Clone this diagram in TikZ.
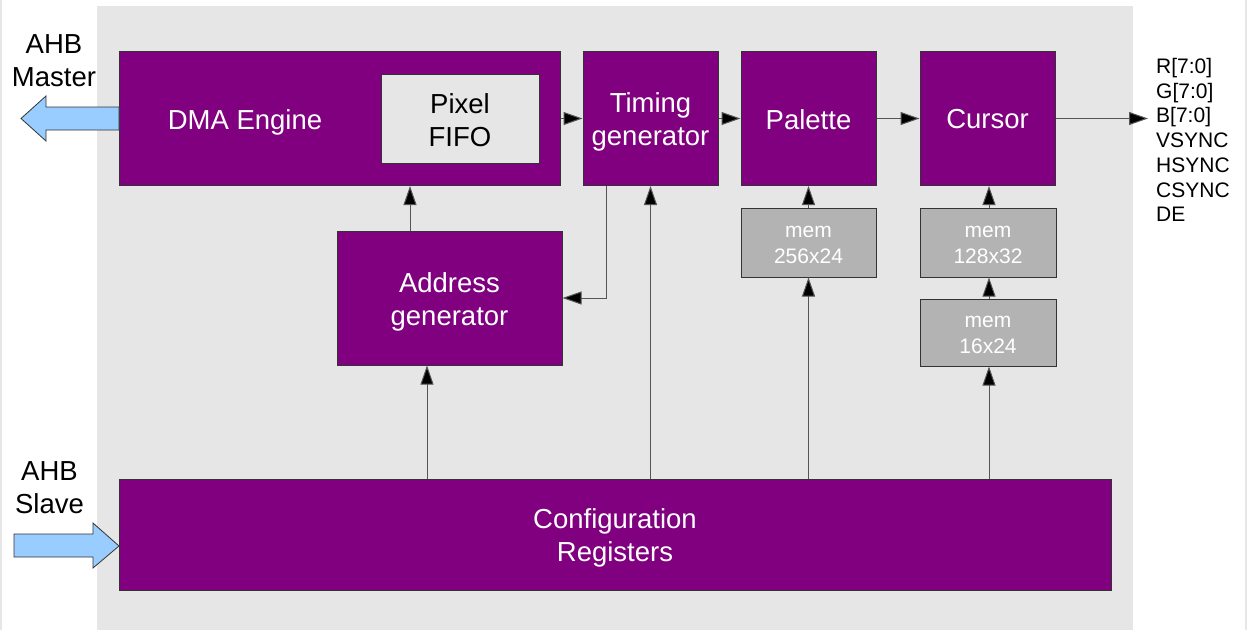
\documentclass[tikz,border=0pt]{standalone}
\usepackage{fontspec}
\setmainfont{Liberation Sans}
\usetikzlibrary{arrows.meta}
\definecolor{bgpanel}{HTML}{E6E6E6}
\definecolor{blkpurple}{HTML}{800080}
\definecolor{memgray}{HTML}{B3B3B3}
\definecolor{ahbblue}{HTML}{99CCFF}
\definecolor{edgecol}{HTML}{333333}
\definecolor{conncol}{HTML}{555555}
\tikzset{
  blk/.style={draw=edgecol, line width=1pt, fill=blkpurple, inner sep=0pt},
  fifobox/.style={draw=edgecol, line width=1pt, fill=bgpanel, inner sep=0pt},
  membox/.style={draw=edgecol, line width=1pt, fill=memgray, inner sep=0pt},
  btxt/.style={label={[text=white, align=center, inner sep=0pt, yshift=-3.5pt,
    font=\fontsize{27.5}{33}\selectfont]center:#1}},
  stxt/.style={label={[text=white, align=center, inner sep=0pt, yshift=-1pt,
    font=\fontsize{27.5}{33}\selectfont]center:#1}},
  ftxt/.style={label={[text=black, align=center, inner sep=0pt, yshift=-2pt,
    font=\fontsize{27.5}{33}\selectfont]center:#1}},
  mtxt/.style={label={[text=white, align=center, inner sep=0pt, yshift=-2pt,
    font=\fontsize{21}{26}\selectfont]center:#1}},
  wtext/.style={text=white, inner sep=0pt, font=\fontsize{27.5}{33}\selectfont},
  lbl/.style={text=black, inner sep=0pt, align=center, font=\fontsize{27.5}{33}\selectfont},
  conn/.style={draw=conncol, line width=1pt, -{Triangle[length=19pt,width=13pt,fill=black]}},
  bigarrow/.style={draw=edgecol, line width=0.8pt, fill=ahbblue},
}
\begin{document}
\begin{tikzpicture}[x=1pt,y=-1pt]
\useasboundingbox (0,0) rectangle (1247,630);
\fill[white] (0,0) rectangle (1247,630);
\fill[bgpanel] (0,0) rectangle (2,630);
\fill[bgpanel] (1245,0) rectangle (1247,630);
\fill[bgpanel] (97,6) rectangle (1133,630);

% blocks
\node[blk, minimum width=441pt, minimum height=134pt] (dma) at (339.5,118.5) {};
\node[wtext] (dmatxt) at (245,122) {DMA Engine};
\node[fifobox, minimum width=158pt, minimum height=89pt, ftxt={Pixel\\FIFO}] (fifo) at (460,118.5) {};
\node[blk, minimum width=135pt, minimum height=134pt, btxt={Timing\\generator}] (tim) at (650.5,118.5) {};
\node[blk, minimum width=135pt, minimum height=134pt, stxt={Palette}] (pal) at (808.5,118.5) {};
\node[blk, minimum width=135pt, minimum height=134pt, stxt={Cursor}] (cur) at (987.5,118.5) {};
\node[membox, minimum width=135pt, minimum height=69pt, mtxt={mem\\256x24}] (m1) at (808.5,242.5) {};
\node[membox, minimum width=136pt, minimum height=69pt, mtxt={mem\\128x32}] (m2) at (988,242.5) {};
\node[membox, minimum width=136pt, minimum height=67pt, mtxt={mem\\16x24}] (m3) at (988,332.5) {};
\node[blk, minimum width=225pt, minimum height=134pt, btxt={Address\\generator}] (addr) at (449.5,298) {};
\node[blk, minimum width=992pt, minimum height=111pt, btxt={Configuration\\Registers}] (cfg) at (615,534.5) {};

% AHB arrows
\draw[bigarrow] (119,107) -- (46,107) -- (46,96) -- (21,118.5) -- (46,141) -- (46,130) -- (119,130) -- cycle;
\draw[bigarrow] (14,534) -- (93,534) -- (93,523) -- (119,546) -- (93,568) -- (93,557) -- (14,557) -- cycle;
\node[lbl] (ahbm) at (54,61) {AHB\\Master};
\node[lbl] (ahbs) at (49.5,487.5) {AHB\\Slave};

% output signals
\coordinate (outp) at (1148,118.5);
\node[anchor=west, align=left, inner sep=0pt, font=\fontsize{21}{24.7}\selectfont] (sigs) at (1156,140)
  {R[7:0]\\G[7:0]\\B[7:0]\\VSYNC\\HSYNC\\CSYNC\\DE};

% connectors
\draw[conn] (dma.east) -- (tim.west);
\draw[conn] (tim.east) -- (pal.west);
\draw[conn] (pal.east) -- (cur.west);
\draw[conn] (cur.east) -- (outp);
\draw[conn] ([xshift=-44.5pt]tim.south) |- (addr.east);
\draw[conn] (tim.south |- cfg.north) -- (tim.south);
\draw[conn] ([xshift=-22.5pt]addr.south |- cfg.north) -- ([xshift=-22.5pt]addr.south);
\draw[conn] ([xshift=-39.5pt]addr.north) -- ([xshift=-39.5pt]addr.north |- dma.south);
\draw[conn] (m1.south |- cfg.north) -- (m1.south);
\draw[conn] (m1.north) -- (pal.south);
\draw[conn] ([xshift=1pt]m3.south |- cfg.north) -- ([xshift=1pt]m3.south);
\draw[conn] ([xshift=1pt]m3.north) -- ([xshift=1pt]m2.south);
\draw[conn] ([xshift=1pt]m2.north) -- ([xshift=1pt]m2.north |- cur.south);
\end{tikzpicture}
\end{document}
